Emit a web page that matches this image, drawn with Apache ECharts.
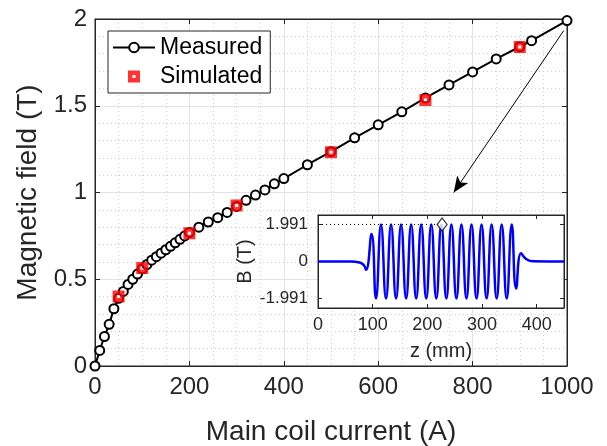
<!DOCTYPE html>
<html><head><meta charset="utf-8">
<script src="https://cdn.jsdelivr.net/npm/echarts@6/dist/echarts.min.js"></script>
<style>html,body{margin:0;padding:0;background:#fff}#c{width:607px;height:446px}</style>
</head><body><div id="c"></div>
<script>
// Main chart data
const measuredCurrent = [0,10,20,30,40,50,60,70,80,90,100,110,120,130,140,150,160,170,180,190,200,220,240,260,280,300,320,340,360,380,400,450,500,550,600,650,700,750,800,850,900,925,1000];
const measuredField   = [0,0.09,0.17,0.24,0.33,0.39,0.43,0.47,0.50,0.53,0.56,0.585,0.61,0.63,0.65,0.67,0.69,0.71,0.73,0.75,0.77,0.80,0.83,0.855,0.885,0.92,0.955,0.985,1.015,1.05,1.08,1.16,1.235,1.315,1.39,1.465,1.545,1.62,1.695,1.77,1.84,1.875,1.991];
const simulatedCurrent = [50,100,200,300,500,700,900];
const simulatedField   = [0.40,0.565,0.765,0.925,1.232,1.533,1.839];
// Inset data (on-axis field profile at 1000 A)
const insetZ = [0,60,76,84,88,98,106,115.2,124.4,133.6,142.8,152,161.2,170.4,179.6,188.8,198,207.2,216.4,225.6,234.8,244,253.2,262.4,271.6,280.8,290,299.2,308.4,317.6,326.8,336,345.2,354.4,362.4,371.5,380,392,450];
const insetB = [0,0,-0.05,-0.2,-0.45,1.48,-1.991,1.991,-1.991,1.991,-1.991,1.991,-1.991,1.991,-1.991,1.991,-1.991,1.991,-1.991,1.991,-1.991,1.991,-1.991,1.991,-1.991,1.991,-1.991,1.991,-1.991,1.991,-1.991,1.991,-1.991,1.991,-1.45,0.45,0.15,0.02,0];
const peakZ = [227];
const peakB = [1.991];
const refLineZ = [0,227];
const refLineB = [1.991,1.991];
const insetYTicks = [-1.991,0,1.991];
const arrowFrom = [993,1.933];
const arrowTo = [760,1.0];

const pairs = (a,b)=>a.map((v,i)=>[v,b[i]]);
const AX = '#262626';
const FONT = '"Liberation Sans", Arial, Helvetica, sans-serif';
const majorSplit = {show:true,lineStyle:{color:'#e3e3e3',width:1}};
const minorSplit = {show:true,lineStyle:{color:'#cfcfcf',width:1,type:[1,3]}};
const SQUARE = 'path://M0 0H12V12H0Z M4.5 4.5V7.5H7.5V4.5Z';
const plain = v => String(v);

const chart = echarts.init(document.getElementById('c'),null,{renderer:'canvas'});
chart.setOption({
  animation:false,
  textStyle:{fontFamily:FONT,color:AX},
  grid:[
    {left:95,top:19,width:472,height:347,show:true,borderColor:AX,borderWidth:1,backgroundColor:'transparent',containLabel:false,outerBoundsMode:'none'},
    {left:318,top:215,width:246,height:93,show:true,borderColor:AX,borderWidth:1,backgroundColor:'#fff',z:10,containLabel:false,outerBoundsMode:'none'}
  ],
  legend:{
    left:108,top:31,orient:'vertical',backgroundColor:'#fff',borderColor:AX,borderWidth:1,
    padding:[5,8,5,4],itemGap:6,itemWidth:42,itemHeight:12,
    textStyle:{fontSize:23,color:'#000',fontFamily:FONT},
    data:['Measured','Simulated']
  },
  xAxis:[
    {gridIndex:0,type:'value',min:0,max:1000,interval:200,position:'bottom',
     name:'Main coil current (A)',nameLocation:'middle',nameGap:52,
     nameTextStyle:{fontSize:28,color:AX,fontFamily:FONT},
     axisLine:{show:true,onZero:false,lineStyle:{color:AX}},axisTick:{show:true,inside:true,length:5,lineStyle:{color:AX}},
     axisLabel:{fontSize:24,color:AX,margin:9,fontFamily:FONT,formatter:plain},
     splitLine:majorSplit,minorTick:{show:false,splitNumber:4},minorSplitLine:minorSplit},
    {gridIndex:0,type:'value',min:0,max:1000,interval:200,position:'top',
     axisLine:{show:true,onZero:false,lineStyle:{color:AX}},axisTick:{show:true,inside:true,length:5,lineStyle:{color:AX}},
     axisLabel:{show:false},splitLine:{show:false}},
    {gridIndex:1,type:'value',min:0,max:450,interval:100,position:'bottom',z:11,
     name:'z (mm)',nameLocation:'middle',nameGap:33,
     nameTextStyle:{fontSize:20,color:AX,fontFamily:FONT},
     axisLine:{show:true,onZero:false,lineStyle:{color:AX}},axisTick:{show:true,inside:true,length:4,lineStyle:{color:AX}},
     axisLabel:{fontSize:18,color:AX,margin:8,fontFamily:FONT,formatter:plain},splitLine:{show:false}},
    {gridIndex:1,type:'value',min:0,max:450,interval:100,position:'top',z:11,
     axisLine:{show:true,onZero:false,lineStyle:{color:AX}},axisTick:{show:true,inside:true,length:4,lineStyle:{color:AX}},
     axisLabel:{show:false},splitLine:{show:false}}
  ],
  yAxis:[
    {gridIndex:0,type:'value',min:0,max:2,interval:0.5,position:'left',
     name:'Magnetic field (T)',nameLocation:'middle',nameGap:48,
     nameTextStyle:{fontSize:28,color:AX,fontFamily:FONT},
     axisLine:{show:true,onZero:false,lineStyle:{color:AX}},axisTick:{show:true,inside:true,length:5,lineStyle:{color:AX}},
     axisLabel:{fontSize:24,color:AX,margin:8,fontFamily:FONT,formatter:plain},
     splitLine:majorSplit,minorTick:{show:false,splitNumber:5},minorSplitLine:minorSplit},
    {gridIndex:0,type:'value',min:0,max:2,interval:0.5,position:'right',
     axisLine:{show:true,onZero:false,lineStyle:{color:AX}},axisTick:{show:true,inside:true,length:5,lineStyle:{color:AX}},
     axisLabel:{show:false},splitLine:{show:false}},
    {gridIndex:1,type:'value',min:-2.5,max:2.5,position:'left',z:11,
     name:'B (T)',nameLocation:'middle',nameGap:57,
     nameTextStyle:{fontSize:20,color:AX,fontFamily:FONT},
     axisLine:{show:true,onZero:false,lineStyle:{color:AX}},
     axisTick:{show:true,inside:true,length:4,customValues:insetYTicks,lineStyle:{color:AX}},
     axisLabel:{fontSize:17,color:AX,margin:10,fontFamily:FONT,customValues:insetYTicks,formatter:plain},
     splitLine:{show:false}},
    {gridIndex:1,type:'value',min:-2.5,max:2.5,position:'right',z:11,
     axisLine:{show:true,onZero:false,lineStyle:{color:AX}},
     axisTick:{show:true,inside:true,length:4,customValues:insetYTicks,lineStyle:{color:AX}},
     axisLabel:{show:false},splitLine:{show:false}}
  ],
  series:[
    {name:'Measured',type:'line',xAxisIndex:0,yAxisIndex:0,data:pairs(measuredCurrent,measuredField),
     symbol:'emptyCircle',symbolSize:9,showAllSymbol:true,
     lineStyle:{color:'#000',width:2},itemStyle:{color:'#000',borderColor:'#000',borderWidth:2},z:3,
     markLine:{silent:true,symbol:['none','arrow'],symbolSize:[10,16],
       lineStyle:{color:'#000',width:1,type:'solid'},label:{show:false},
       data:[[{coord:arrowFrom},{coord:arrowTo}]]}},
    {name:'Simulated',type:'scatter',xAxisIndex:0,yAxisIndex:0,data:pairs(simulatedCurrent,simulatedField),
     symbol:SQUARE,symbolSize:12,itemStyle:{color:'#ff0000',borderWidth:0},z:4},
    {name:'inset',type:'line',xAxisIndex:2,yAxisIndex:2,data:pairs(insetZ,insetB),
     smooth:0.5,symbol:'none',lineStyle:{color:'#0000ff',width:2.5},z:12},
    {name:'ref',type:'line',xAxisIndex:2,yAxisIndex:2,data:pairs(refLineZ,refLineB),
     symbol:'none',lineStyle:{color:'#000',width:1,type:[1,3]},z:12},
    {name:'peak',type:'scatter',xAxisIndex:2,yAxisIndex:2,data:pairs(peakZ,peakB),
     symbol:'diamond',symbolSize:[10,13],itemStyle:{color:'#ffffff',borderColor:'#000',borderWidth:1.2},z:13}
  ]
});
</script></body></html>
